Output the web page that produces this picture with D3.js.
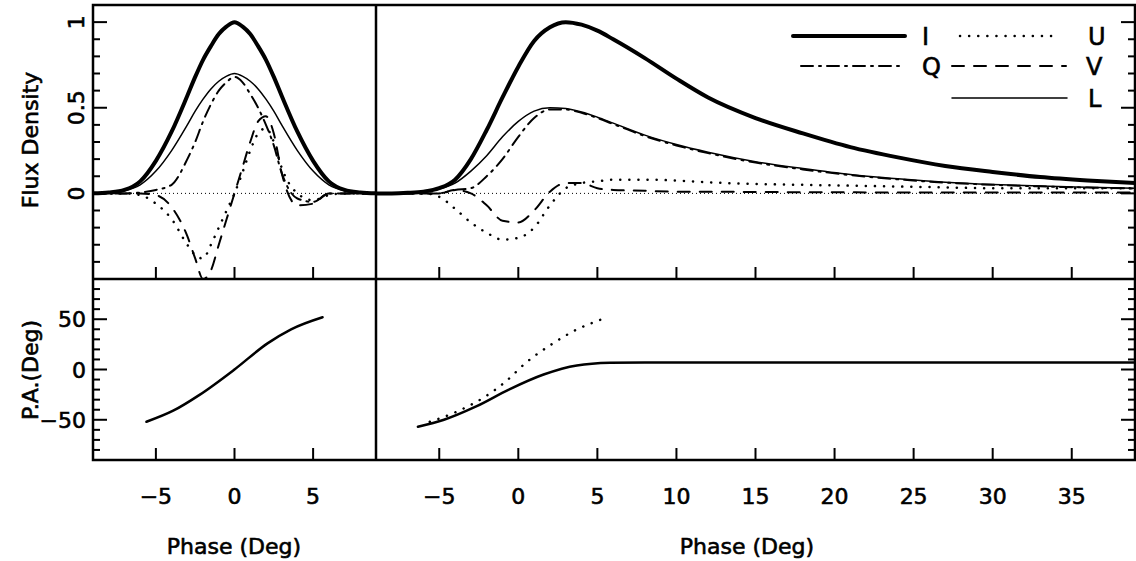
<!DOCTYPE html>
<html><head><meta charset="utf-8">
<script src="https://cdn.jsdelivr.net/npm/d3@7"></script>
<style>body{margin:0;background:#fff}text{font-family:"DejaVu Sans",sans-serif;fill:#000;stroke:#000;stroke-width:0.6px}</style>
</head><body><svg width="1136" height="561"></svg>
<script>
// left panel data (flux)
const xLeft = [-9,-8,-7,-6,-5,-4,-3,-2.5,-2,-1.5,-1,-0.5,0,0.5,1,1.5,2,2.5,3,4,5,6,7,8,9];
const iLeft = [0,0.005,0.02,0.07,0.19,0.36,0.57,0.68,0.78,0.86,0.93,0.975,1.0,0.975,0.93,0.86,0.78,0.68,0.57,0.36,0.19,0.07,0.02,0.005,0];
const lLeft = [0,0.004,0.015,0.05,0.13,0.25,0.4,0.48,0.55,0.61,0.655,0.685,0.7,0.685,0.655,0.61,0.55,0.48,0.4,0.25,0.13,0.05,0.015,0.004,0];
const qLeft = [0,0,0,0.005,0.02,0.05,0.2,0.3,0.42,0.52,0.6,0.65,0.68,0.65,0.58,0.5,0.4,0.28,0.12,-0.03,-0.05,0,0,0,0];
const vLeft = [0,0,0,0,-0.01,-0.08,-0.25,-0.38,-0.5,-0.45,-0.3,-0.15,0,0.15,0.3,0.42,0.45,0.35,0.12,-0.07,-0.06,0,0,0,0];
const uLeft = [0,0,0,-0.01,-0.06,-0.15,-0.3,-0.36,-0.38,-0.3,-0.2,-0.1,0,0.12,0.25,0.35,0.38,0.3,0.15,0,-0.04,-0.01,0,0,0];
// right panel data (flux)
const xRight = [-9,-8,-7,-6,-5,-4,-3,-2,-1,0,1,2,3,4,5,6,8,10,12,15,18,21,24,27,30,33,36,39];
const iRight = [0,0,0.003,0.01,0.03,0.08,0.2,0.37,0.56,0.74,0.89,0.97,1.0,0.985,0.95,0.9,0.79,0.67,0.56,0.44,0.35,0.27,0.21,0.16,0.125,0.095,0.075,0.06];
const lRight = [0,0,0.003,0.008,0.025,0.06,0.13,0.22,0.33,0.42,0.48,0.5,0.495,0.475,0.445,0.41,0.34,0.285,0.24,0.185,0.145,0.11,0.085,0.065,0.052,0.043,0.036,0.03];
const qRight = [0,0,0,0,0,0.02,0.03,0.1,0.2,0.33,0.44,0.49,0.49,0.47,0.44,0.405,0.335,0.28,0.235,0.18,0.14,0.107,0.082,0.063,0.05,0.041,0.034,0.028];
const vRight = [0,0,0,0,0,0.02,0,-0.07,-0.16,-0.17,-0.1,0.01,0.06,0.06,0.03,0.02,0.015,0.01,0.01,0.008,0.007,0.006,0.005,0.005,0.005,0.005,0.005,0.005];
const uRight = [0,0,0,0,-0.02,-0.09,-0.17,-0.23,-0.27,-0.26,-0.2,-0.07,0.03,0.06,0.07,0.08,0.08,0.075,0.065,0.055,0.05,0.045,0.04,0.035,0.03,0.03,0.03,0.03];
// position angle
const paLeftX = [-5.6,-3.9,-2.2,0,2.1,3.6,5.6];
const paLeft  = [-52,-41,-25,0,26,40,52];
const paRightX = [-6.35,-4.7,-2.7,-0.6,1.6,3.7,5.8,8,39];
const paRight  = [-57,-50,-37,-20,-5,4,6.6,7,7];
const paUX = [-5.6,-3.9,-2.2,-0.8,0.5,2.1,3.6,5.3];
const paU  = [-52,-42,-28,-12,7,25,39,50];

const svg = d3.select('svg');
const L = 93, M = 376, R = 1135, T = 5, Mid = 279, B = 460;
const xl = d3.scaleLinear().domain([-9, 9]).range([L, M]);
const xr = d3.scaleLinear().domain([-9, 39]).range([M, R]);
const yF = d3.scaleLinear().domain([-0.5, 1.1]).range([Mid, T]);
const yP = d3.scaleLinear().domain([-90, 90]).range([B, Mid]);

const styles = {
  I: {w: 4, dash: null},
  L: {w: 1.5, dash: null},
  Q: {w: 2, dash: '12,6,2,6'},
  V: {w: 2, dash: '12,10'},
  U: {w: 2.5, dash: '0.1,9'},
  P: {w: 2.5, dash: null}
};

function drawLine(xs, ys, xS, yS, st, clipId) {
  const line = d3.line().x(d => xS(d[0])).y(d => yS(d[1])).curve(d3.curveMonotoneX);
  svg.append('path')
     .attr('d', line(xs.map((x, i) => [x, ys[i]])))
     .attr('clip-path', `url(#${clipId})`)
     .style('fill', 'none').style('stroke', '#000')
     .style('stroke-width', st.w + 'px')
     .style('stroke-linecap', 'round')
     .attr('stroke-dasharray', st.dash);
}

const defs = svg.append('defs');
[['cl', L, T, M - L, Mid - T], ['cr', M, T, R - M, Mid - T]].forEach(c => {
  defs.append('clipPath').attr('id', c[0]).append('rect')
      .attr('x', c[1]).attr('y', c[2]).attr('width', c[3]).attr('height', c[4]);
});

// zero lines
[[xl, -9, 9], [xr, -9, 39]].forEach(s => {
  svg.append('line').attr('x1', s[0](s[1])).attr('x2', s[0](s[2]))
     .attr('y1', yF(0)).attr('y2', yF(0))
     .style('stroke', '#000').style('stroke-width', '1px').attr('stroke-dasharray', '1,3');
});

drawLine(xLeft, uLeft, xl, yF, styles.U, 'cl');
drawLine(xLeft, vLeft, xl, yF, styles.V, 'cl');
drawLine(xLeft, qLeft, xl, yF, styles.Q, 'cl');
drawLine(xLeft, lLeft, xl, yF, styles.L, 'cl');
drawLine(xLeft, iLeft, xl, yF, styles.I, 'cl');
drawLine(xRight, uRight, xr, yF, styles.U, 'cr');
drawLine(xRight, vRight, xr, yF, styles.V, 'cr');
drawLine(xRight, qRight, xr, yF, styles.Q, 'cr');
drawLine(xRight, lRight, xr, yF, styles.L, 'cr');
drawLine(xRight, iRight, xr, yF, styles.I, 'cr');

drawLine(paLeftX, paLeft, xl, yP, styles.P, 'none');
drawLine(paRightX, paRight, xr, yP, styles.P, 'none');
drawLine(paUX, paU, xr, yP, styles.U, 'none');

// ticks (pointing inward)
function xTicks(xS, vals, y0, len) {
  vals.forEach(v => svg.append('line').attr('x1', xS(v)).attr('x2', xS(v))
    .attr('y1', y0).attr('y2', y0 - len).style('stroke', '#000').style('stroke-width', '2px'));
}
xTicks(xl, [-5, 0, 5], Mid, 12);
xTicks(xl, [-5, 0, 5], B, 12);
xTicks(xr, d3.range(-5, 40, 5), Mid, 12);
xTicks(xr, d3.range(-5, 40, 5), B, 12);

function yTicks(yS, minor, major) {
  minor.forEach(v => {
    const big = major.some(m => Math.abs(m - v) < 1e-6);
    [[L, 1], [R, -1]].forEach(s => svg.append('line')
      .attr('x1', s[0]).attr('x2', s[0] + s[1] * (big ? 14 : 7))
      .attr('y1', yS(v)).attr('y2', yS(v))
      .style('stroke', '#000').style('stroke-width', '2px'));
  });
}
yTicks(yF, d3.range(-0.4, 1.05, 0.1).map(v => +v.toFixed(1)), [0, 0.5, 1]);
yTicks(yP, d3.range(-80, 90, 10), [-50, 0, 50]);

// frames
svg.append('rect').attr('x', L).attr('y', T).attr('width', R - L).attr('height', B - T)
   .style('fill', 'none').style('stroke', '#000').style('stroke-width', '2.5px');
svg.append('line').attr('x1', L).attr('x2', R).attr('y1', Mid).attr('y2', Mid)
   .style('stroke', '#000').style('stroke-width', '2.5px');
svg.append('line').attr('x1', M).attr('x2', M).attr('y1', T).attr('y2', B)
   .style('stroke', '#000').style('stroke-width', '2.5px');

// tick labels
const fs = '22px';
[-5, 0, 5].forEach(v => svg.append('text').text(v < 0 ? '\u2212' + (-v) : v)
  .attr('x', xl(v)).attr('y', 504).style('font-size', fs).style('text-anchor', 'middle'));
d3.range(-5, 40, 5).forEach(v => svg.append('text').text(v < 0 ? '\u2212' + (-v) : v)
  .attr('x', xr(v)).attr('y', 504).style('font-size', fs).style('text-anchor', 'middle'));
[0, 0.5, 1].forEach(v => svg.append('text').text(v)
  .attr('transform', `translate(84, ${yF(v)}) rotate(-90)`)
  .style('font-size', fs).style('text-anchor', 'middle'));
[-50, 0, 50].forEach(v => svg.append('text').text(v < 0 ? '\u2212' + (-v) : v)
  .attr('x', 86).attr('y', yP(v) + 8).style('font-size', fs).style('text-anchor', 'end'));

// axis titles
svg.append('text').text('Flux Density').attr('transform', 'translate(38, 140) rotate(-90)')
   .style('font-size', fs).style('text-anchor', 'middle');
svg.append('text').text('P.A.(Deg)').attr('transform', 'translate(38, 370) rotate(-90)')
   .style('font-size', fs).style('text-anchor', 'middle');
svg.append('text').text('Phase (Deg)').attr('x', 234).attr('y', 554)
   .style('font-size', fs).style('text-anchor', 'middle');
svg.append('text').text('Phase (Deg)').attr('x', 747).attr('y', 554)
   .style('font-size', fs).style('text-anchor', 'middle');

// legend
const legend = [
  {k: 'I', x1: 793, x2: 905, y: 36, lx: 922},
  {k: 'U', x1: 960, x2: 1060, y: 36, lx: 1088},
  {k: 'Q', x1: 801, x2: 905, y: 66, lx: 922},
  {k: 'V', x1: 952, x2: 1066, y: 66, lx: 1086},
  {k: 'L', x1: 952, x2: 1067, y: 98, lx: 1088}
];
legend.forEach(d => {
  const st = styles[d.k];
  svg.append('line').attr('x1', d.x1).attr('x2', d.x2).attr('y1', d.y).attr('y2', d.y)
     .style('stroke', '#000').style('stroke-width', st.w + 'px').style('stroke-linecap', 'round')
     .attr('stroke-dasharray', st.dash);
  svg.append('text').text(d.k).attr('x', d.lx).attr('y', d.y + 9)
     .style('font-size', '24px');
});
</script></body></html>
